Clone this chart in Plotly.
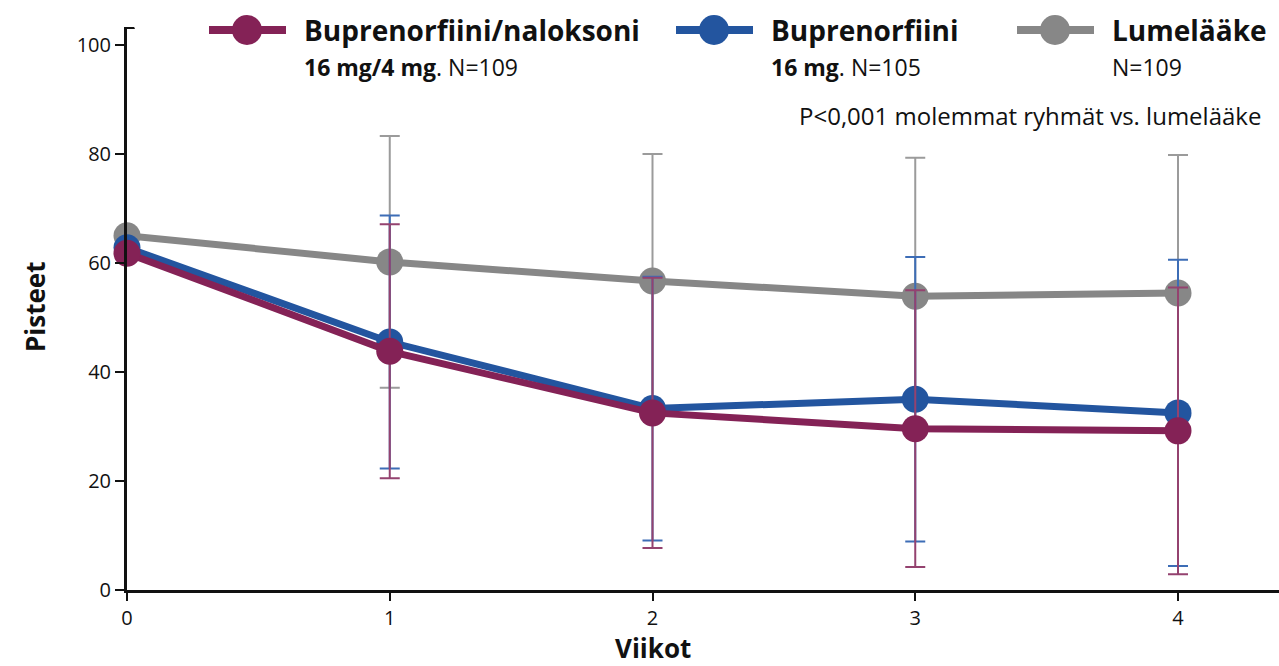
import plotly.graph_objects as go

# ---- data ----
weeks = [0, 1, 2, 3, 4]
week_ticks = [0, 1, 2, 3, 4]
score_ticks = [0, 20, 40, 60, 80, 100]

placebo = [65.0, 60.2, 56.7, 53.9, 54.5]
placebo_err = [0, 23.1, 23.3, 25.4, 25.3]

bup = [62.8, 45.5, 33.3, 35.0, 32.5]
bup_err = [0, 23.2, 24.2, 26.1, 28.1]

bupnal = [61.8, 43.8, 32.5, 29.6, 29.2]
bupnal_err = [0, 23.3, 24.8, 25.4, 26.3]

names = ["Buprenorfiini/naloksoni", "Buprenorfiini", "Lumelääke"]
subs = ["<b>16 mg/4 mg</b>. N=109", "<b>16 mg</b>. N=105", "N=109"]
p_text = "P<0,001 molemmat ryhmät vs. lumelääke"
x_title = "Viikot"
y_title = "Pisteet"

# ---- styles ----
W, H = 1279, 666
L, R, T, B = 127, 0, 27, 76
FONT = "Open Sans, Noto Sans, Roboto, sans-serif"
C_PURPLE = "#842256"
C_BLUE = "#23559F"
C_GRAY = "#878787"
E_PURPLE = "#94426F"
E_BLUE = "#3D6DB6"
E_GRAY = "#9B9B9B"

pw, ph = W - L - R, H - T - B
px_per_week = 262.75
px_per_unit = 5.45
x_max = pw / px_per_week
y_max = ph / px_per_unit


def paper_x(px):
    return (px - L) / pw


def paper_y(py):
    return (H - B - py) / ph


fig = go.Figure()
series = [
    (placebo, placebo_err, C_GRAY, E_GRAY, names[2]),
    (bup, bup_err, C_BLUE, E_BLUE, names[1]),
    (bupnal, bupnal_err, C_PURPLE, E_PURPLE, names[0]),
]
for vals, errs, col, ecol, nm in series:
    fig.add_trace(go.Scatter(
        x=weeks, y=vals, name=nm, mode="lines+markers",
        line=dict(color=col, width=7),
        marker=dict(color=col, size=27),
        error_y=dict(type="data", array=errs, visible=True,
                     color=ecol, thickness=2, width=10),
        showlegend=False, cliponaxis=False,
    ))

fig.update_layout(
    width=W, height=H,
    margin=dict(l=L, r=R, t=T, b=B),
    paper_bgcolor="white", plot_bgcolor="white",
    font=dict(family=FONT, color="#111111"),
    xaxis=dict(range=[0, x_max], tickvals=week_ticks, ticks="outside", ticklen=8,
               tickwidth=2, tickcolor="#111", showline=True, linecolor="#111",
               linewidth=3, showgrid=False, zeroline=False,
               tickfont=dict(size=20, family=FONT)),
    yaxis=dict(range=[0, y_max], tickvals=score_ticks, ticks="outside", ticklen=9,
               tickwidth=2, tickcolor="#111", showline=True, linecolor="#111",
               linewidth=3, showgrid=False, zeroline=False,
               tickfont=dict(size=20, family=FONT)),
)

# y-axis arrow head
fig.add_shape(type="path", xref="x", yref="y", xsizemode="pixel", ysizemode="pixel",
              xanchor=0, yanchor=y_max, path="M -8,-2 L 8,-2 L 0,16 Z",
              fillcolor="#111", line=dict(width=0))

# axis titles
fig.add_annotation(text="<b>" + x_title + "</b>", x=2, xref="x", y=paper_y(648), yref="paper",
                   showarrow=False, font=dict(size=26, family=FONT), yanchor="middle")
fig.add_annotation(text="<b>" + y_title + "</b>", x=paper_x(35), xref="paper",
                   y=paper_y(307), yref="paper", textangle=-90,
                   showarrow=False, font=dict(size=26, family=FONT),
                   xanchor="center", yanchor="middle")

# legend (manual)
legend_pos = [(205, C_PURPLE, 0), (672, C_BLUE, 1), (1013, C_GRAY, 2)]
for x0, col, i in legend_pos:
    fig.add_shape(type="line", xref="paper", yref="paper",
                  x0=paper_x(x0 + 4), x1=paper_x(x0 + 81), y0=paper_y(30), y1=paper_y(30),
                  line=dict(color=col, width=8))
    fig.add_shape(type="circle", xref="paper", yref="paper", xsizemode="pixel",
                  ysizemode="pixel", xanchor=paper_x(x0 + 42), yanchor=paper_y(30),
                  x0=-15, x1=15, y0=-15, y1=15, fillcolor=col, line=dict(width=0))
    fig.add_annotation(text="<b>" + names[i] + "</b>", xref="paper", yref="paper",
                       x=paper_x(x0 + 97), y=paper_y(30), xanchor="left", yanchor="middle",
                       showarrow=False, font=dict(size=28, family=FONT))
    fig.add_annotation(text=subs[i], xref="paper", yref="paper",
                       x=paper_x(x0 + 97), y=paper_y(67), xanchor="left", yanchor="middle",
                       showarrow=False, font=dict(size=23, family=FONT))

fig.add_annotation(text=p_text, xref="paper", yref="paper",
                   x=paper_x(1263), y=paper_y(116), xanchor="right", yanchor="middle",
                   showarrow=False, font=dict(size=24, family=FONT))

fig.write_html("out.html", config={"displayModeBar": False},
               post_script="document.body.style.margin='0px';")
